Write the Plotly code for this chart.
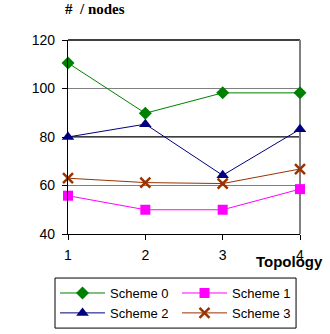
import plotly.graph_objects as go

topology = [1, 2, 3, 4]
scheme0 = [110.5, 89.8, 98.2, 98.2]
scheme1 = [55.8, 50.0, 50.0, 58.5]
scheme2 = [80.0, 85.3, 64.2, 83.2]
scheme3 = [63.0, 61.2, 60.8, 66.8]
y_ticks = [40, 60, 80, 100, 120]
x_ticks = [1, 2, 3, 4]

series = [
    ("Scheme 0", scheme0, "#008000", "diamond", 10),
    ("Scheme 1", scheme1, "#FF00FF", "square", 10),
    ("Scheme 2", scheme2, "#000080", "triangle-up", 11),
    ("Scheme 3", scheme3, "#993300", "x-thin", 10),
]

fig = go.Figure()
for name, vals, color, sym, size in series:
    marker = dict(symbol=sym, size=size, color=color)
    if sym == "x-thin":
        marker["line"] = dict(color=color, width=2.5)
    fig.add_trace(go.Scatter(
        x=topology, y=vals, name=name, mode="lines+markers",
        line=dict(color=color, width=1), marker=marker, cliponaxis=False,
    ))

# black gridline at 80, as in the reference
fig.add_shape(type="line", xref="paper", x0=0, x1=1, yref="y", y0=y_ticks[2], y1=y_ticks[2],
              line=dict(color="black", width=1.3), layer="below")
# top border black, right border gray
fig.add_shape(type="line", xref="paper", x0=0, x1=1, yref="paper", y0=1, y1=1,
              line=dict(color="black", width=1.3), layer="below")
fig.add_shape(type="line", xref="paper", x0=1, x1=1, yref="paper", y0=0, y1=1,
              line=dict(color="#808080", width=2), layer="below")
# legend frame
fig.add_shape(type="rect", xref="paper", yref="paper", x0=-0.056, x1=0.983, y0=-0.485, y1=-0.227,
              line=dict(color="black", width=1), fillcolor="rgba(0,0,0,0)", layer="above")

fig.update_layout(
    width=330, height=334,
    margin=dict(l=68, r=30, t=40, b=100, autoexpand=False),
    paper_bgcolor="white", plot_bgcolor="white",
    font=dict(family="Liberation Sans, Arial, sans-serif", size=14, color="black"),
    showlegend=True,
    legend=dict(
        orientation="h", x=-0.056, y=-0.227, xanchor="left", yanchor="top",
        borderwidth=0, bgcolor="rgba(0,0,0,0)",
        font=dict(size=13), entrywidth=62, entrywidthmode="pixels",
        tracegroupgap=0, itemwidth=45,
    ),
    xaxis=dict(
        range=[1, 4], tickvals=x_ticks, showgrid=False, zeroline=False,
        showline=True, linecolor="black", linewidth=1.3,
        ticks="outside", ticklen=5, tickcolor="black", tickfont=dict(size=14),
        ticklabelstandoff=3,
    ),
    yaxis=dict(
        range=[40, 120], tickvals=y_ticks, showgrid=True, gridcolor="#808080", gridwidth=1,
        zeroline=False, showline=True, linecolor="black", linewidth=1.3,
        ticks="outside", ticklen=5, tickcolor="black", tickfont=dict(size=14),
        ticklabelstandoff=4,
    ),
    annotations=[
        dict(text="<b>#  / nodes</b>", xref="paper", yref="paper", x=-0.022, y=1.16,
             xanchor="left", yanchor="middle", showarrow=False,
             font=dict(family="Liberation Serif, Times New Roman, serif", size=15)),
        dict(text="<b>Topology</b>", xref="paper", yref="paper", x=1.108, y=-0.144,
             xanchor="right", yanchor="middle", showarrow=False, font=dict(size=15)),
    ],
)

fig.write_html("out.html", post_script="document.body.style.margin='0';",
               config={"displayModeBar": False})
